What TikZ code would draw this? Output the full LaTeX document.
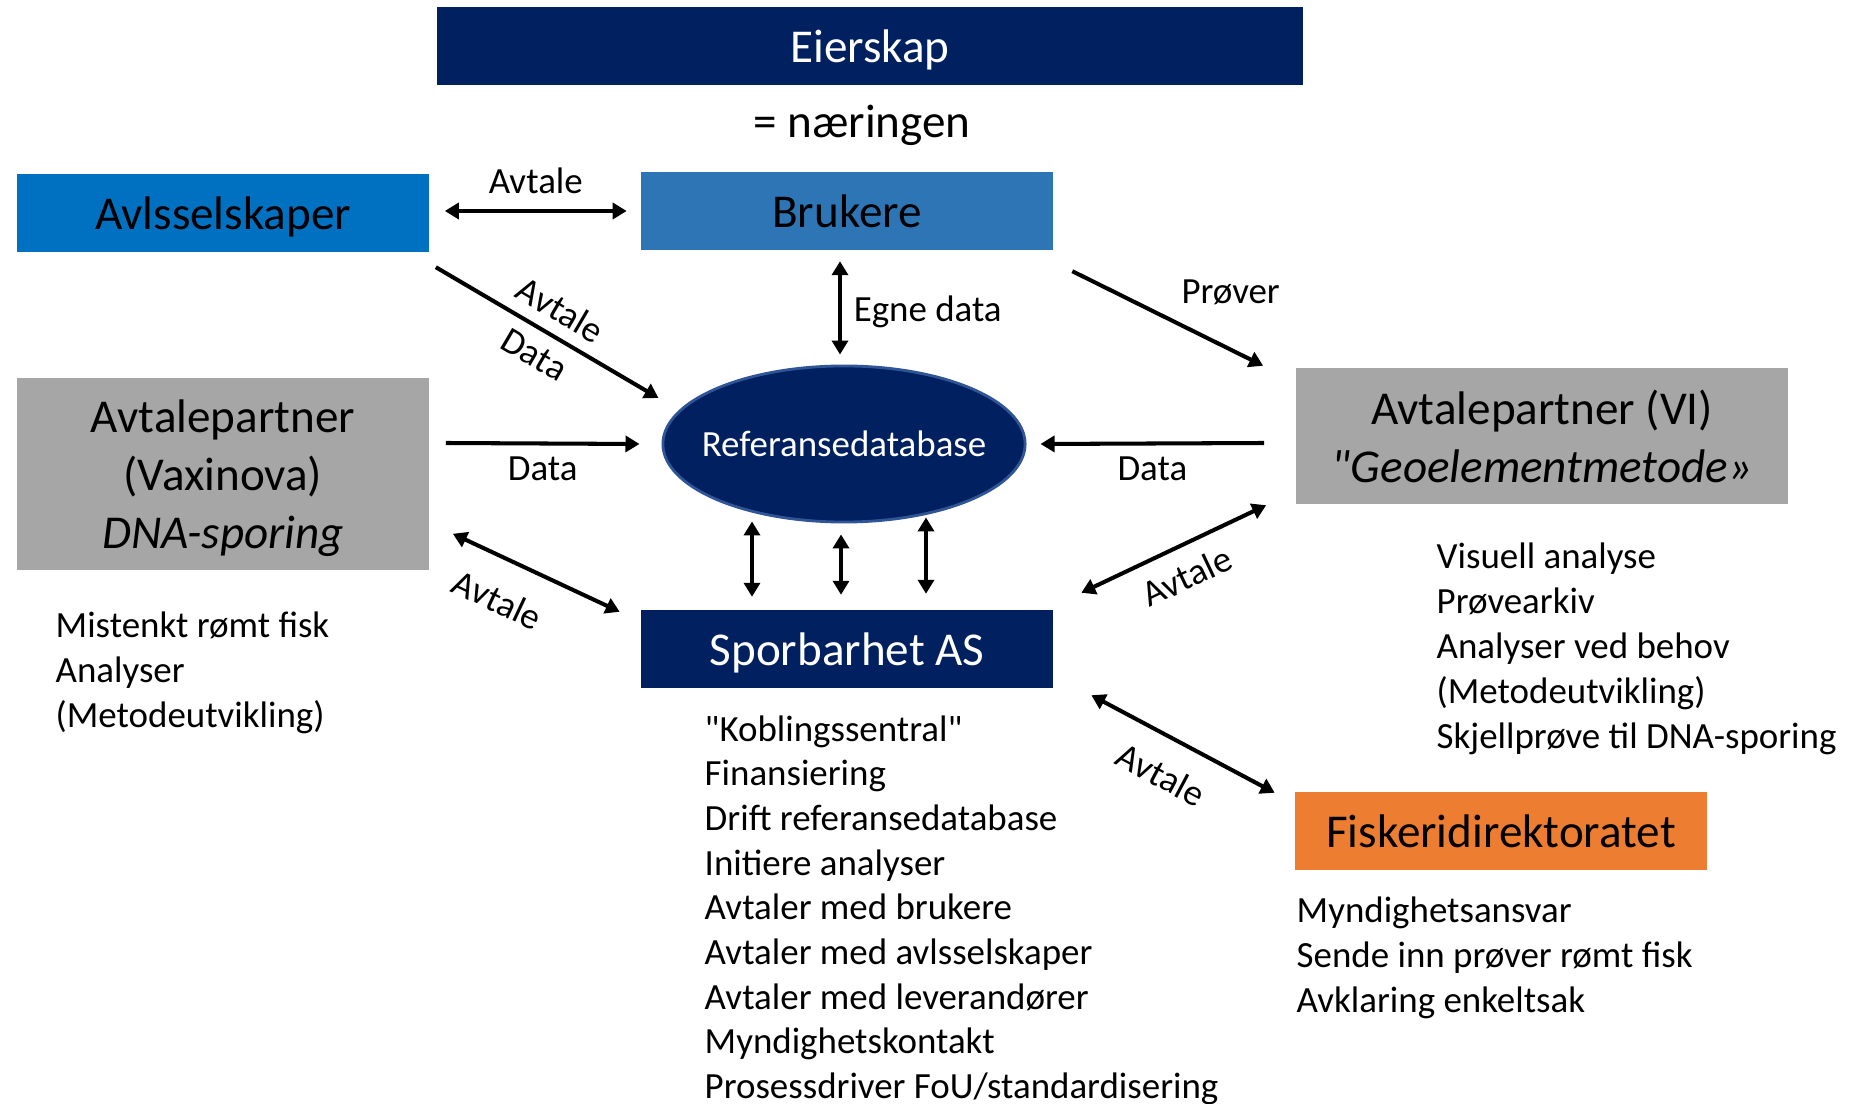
\documentclass[tikz,border=0pt]{standalone}
\usepackage{fontspec}
\setmainfont{Carlito}
\usetikzlibrary{arrows.meta, shapes.geometric}

\definecolor{navy}{HTML}{002060}
\definecolor{avlblue}{HTML}{0070C0}
\definecolor{brukblue}{HTML}{2E75B6}
\definecolor{partgray}{HTML}{A6A6A6}
\definecolor{fiskorange}{HTML}{ED7D31}
\definecolor{rim}{HTML}{2F5597}

\newcommand{\bigtxt}{\fontsize{13.4}{16.4}\selectfont}
\newcommand{\smalltxt}{\fontsize{10.5}{12.7}\selectfont}

\tikzset{
  box/.style={minimum height=0.77cm, inner sep=0pt, text depth=0pt, font=\bigtxt},
  lbl/.style={font=\smalltxt},
  lst/.style={font=\smalltxt, anchor=base west, inner sep=0pt},
  one/.style={-{Triangle[length=0.14cm, width=0.16cm]}, line width=1.15pt},
  dbl/.style={{Triangle[length=0.14cm, width=0.16cm]}-{Triangle[length=0.14cm, width=0.16cm]}, line width=1.15pt},
}

\begin{document}
\begin{tikzpicture}[x=0.01cm, y=-0.01cm]
    \useasboundingbox (0,0) rectangle (1852,1104);

    % Boxes
    \node[box, fill=navy, text=white, minimum width=8.66cm] (eier) at (870,46) {Eierskap};
    \node[font=\bigtxt] (naer) at (862,125) {= næringen};
    \node[box, fill=avlblue, minimum width=4.12cm] (avl) at (223,213) {Avlsselskaper};
    \node[box, fill=brukblue, minimum width=4.11cm] (bruk) at (847,211) {Brukere};
    \node[box, fill=partgray, minimum width=4.12cm, minimum height=1.92cm, align=center] (vax) at (223,474)
      {Avtalepartner\\(Vaxinova)\\\textit{DNA-sporing}};
    \node[ellipse, fill=navy, draw=rim, line width=0.8pt, minimum width=3.62cm, minimum height=1.56cm,
      inner xsep=-0.15cm, inner ysep=0pt, text=white, font=\smalltxt] (ref) at (844,444) {Referansedatabase};
    \node[box, fill=partgray, minimum width=4.92cm, minimum height=1.35cm, align=center] (vi) at (1542,436)
      {Avtalepartner (VI)\\\textit{\textquotedbl Geoelementmetode»}};
    \node[box, fill=navy, text=white, minimum width=4.11cm] (spor) at (847,649) {Sporbarhet AS};
    \node[box, fill=fiskorange, minimum width=4.11cm] (fisk) at (1501,831) {Fiskeridirektoratet};

    % Arrows
    \draw[dbl] ([shift={(15,-2)}]avl.east) -- ([shift={(-14,0)}]bruk.west) node[lbl, midway, above=1pt] {Avtale};
    \draw[one] ([shift={(6,15)}]avl.south east) -- ([shift={(-3,-46)}]ref.west)
      node[lbl, midway, sloped, above] {Avtale} node[lbl, midway, sloped, below] {Data};
    \draw[dbl] ([shift={(-7,11)}]bruk.south) -- ([shift={(-4,-10)}]ref.north)
      node[lbl, midway, right, yshift=-1pt] {Egne data};
    \draw[one] ([shift={(19,21)}]bruk.south east) -- ([shift={(-32,-2)}]vi.north west) node[lbl, midway, above right] {Prøver};
    \draw[one] ([shift={(16,-31)}]vax.east) -- ([shift={(-22,0)}]ref.west) node[lbl, midway, below] {Data};
    \draw[one] ([shift={(-31,7)}]vi.west) -- ([shift={(14,0)}]ref.east) node[lbl, midway, below] {Data};
    \draw[dbl] ([shift={(23,-37)}]vax.south east) -- ([shift={(-21,2)}]spor.north west)
      node[lbl, pos=0.37, sloped, below=4pt] {Avtale};
    \foreach \dx/\dy/\ey in {-92/-2/-13, -3/11/-15, 82/-6/-16}
      \draw[dbl] ([shift={(\dx,\dy)}]ref.south) -- ([shift={(\dx-3,\ey)}]spor.north);
    \draw[dbl] ([shift={(28,-17)}]spor.north east) -- ([shift={(-29,1)}]vi.south west)
      node[lbl, midway, sloped, below=1pt] {Avtale};
    \draw[dbl] ([shift={(38,7)}]spor.south east) -- ([shift={(-20,1)}]fisk.north west)
      node[lbl, pos=0.475, sloped, below=3pt] {Avtale};

    % Lists
    \foreach \t [count=\i] in {Mistenkt rømt fisk, Analyser, (Metodeutvikling)}
      \node[lst] (vx\i) at (55, 592.5+45*\i) {\t};
    \foreach \t [count=\i] in {\textquotedbl Koblingssentral\textquotedbl, Finansiering, Drift referansedatabase,
        Initiere analyser, Avtaler med brukere, Avtaler med avlsselskaper, Avtaler med leverandører,
        Myndighetskontakt, Prosessdriver FoU/standardisering}
      \node[lst] (sp\i) at (704, 696.8+44.6*\i) {\t};
    \foreach \t [count=\i] in {Visuell analyse, Prøvearkiv, Analyser ved behov, (Metodeutvikling),
        Skjellprøve til DNA-sporing}
      \node[lst] (vi\i) at (1436, 523.5+45*\i) {\t};
    \foreach \t [count=\i] in {Myndighetsansvar, Sende inn prøver rømt fisk, Avklaring enkeltsak}
      \node[lst] (fi\i) at (1296, 877+45*\i) {\t};
\end{tikzpicture}
\end{document}
